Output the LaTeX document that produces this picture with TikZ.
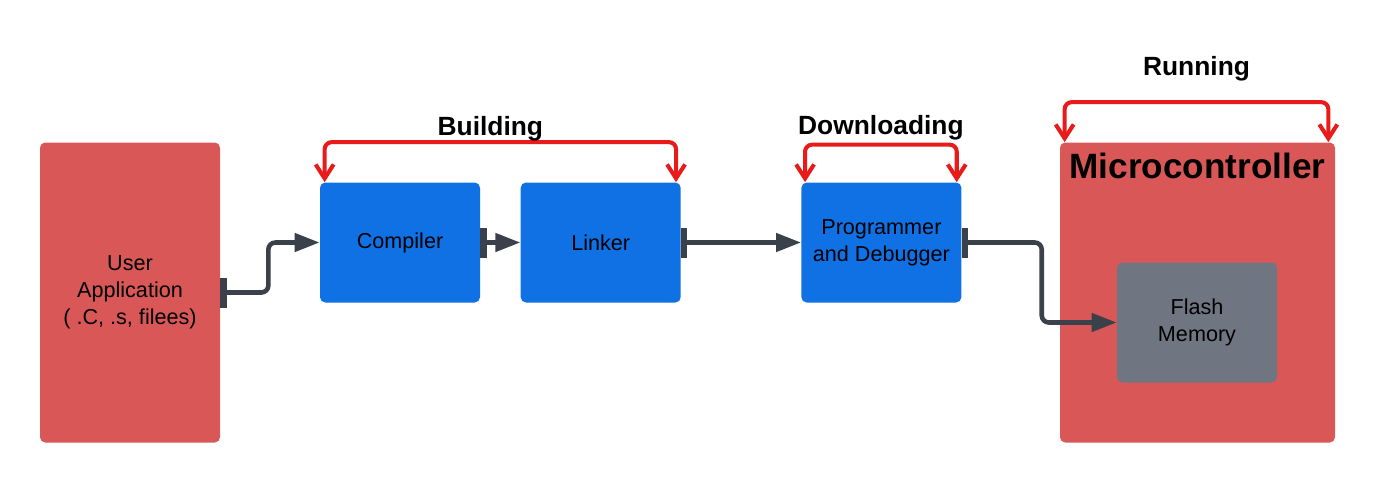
\documentclass[tikz,border=0pt]{standalone}
\usepackage{fontspec}
\setmainfont{Liberation Sans}
\usepackage{tikz}
\usetikzlibrary{positioning, arrows.meta, calc}

\definecolor{boxred}{HTML}{D95757}
\definecolor{boxblue}{HTML}{1071E5}
\definecolor{boxgray}{HTML}{6F7681}
\definecolor{linkgray}{HTML}{3A414A}
\definecolor{loopred}{HTML}{E81A1A}

\tikzset{
    block/.style={rounded corners=3pt, align=center, inner sep=0pt,
        font=\fontsize{12.3}{15.5}\selectfont},
    tool/.style={block, fill=boxblue, minimum width=3.2cm, minimum height=2.4cm},
    flow/.style={linkgray, line width=2.6pt, rounded corners=4pt,
        {Bar[width=0.6cm,line width=3.6pt]}-{Triangle[length=0.5cm,width=0.36cm]}},
    loop/.style={loopred, line width=2.3pt, rounded corners=4pt,
        {Straight Barb[length=0.28cm,width=0.36cm]}-{Straight Barb[length=0.28cm,width=0.36cm]}},
    stage/.style={font=\fontsize{15}{18}\selectfont\bfseries}
}

\begin{document}
\begin{tikzpicture}
    \useasboundingbox (0,0) rectangle (27.5,-9.66);
    % boxes
    \node[block, fill=boxred, minimum width=3.6cm, minimum height=6cm] (app) at (2.6,-5.85)
        {User\\Application\\( .C, .s, filees)};
    \node[tool] (comp) at (8.0,-4.85) {Compiler};
    \node[tool, right=0.8cm of comp] (link) {Linker};
    \node[tool, right=2.4cm of link] (prog) {Programmer\\and Debugger};
    \node[block, fill=boxred, minimum width=5.5cm, minimum height=6cm] (mcu) at (23.95,-5.85) {};
    \node[font=\fontsize{20}{24}\selectfont\bfseries, anchor=north] (mcutext)
        at ([yshift=-0.1cm]mcu.north) {Microcontroller};
    \node[block, fill=boxgray, minimum width=3.2cm, minimum height=2.4cm] (flash) at (23.94,-6.45)
        {Flash\\Memory};
    % connectors
    \draw[flow] (app.east) -- ++(0.96,0) |- (comp.west);
    \draw[flow] (comp.east) -- (link.west);
    \draw[flow] (link.east) -- (prog.west);
    \draw[flow] (prog.east) -- ++(1.6,0) |- (flash.west);
    % stages
    \draw[loop] ([xshift=0.1cm]comp.north west) -- ++(0,0.8) coordinate (b1)
        -- ([xshift=-0.1cm,yshift=0.8cm]link.north east) coordinate (b2) -- ([xshift=-0.1cm]link.north east);
    \node[stage] (building) at ($(b1)!0.5!(b2)+(-0.2,0.27)$) {Building};
    \draw[loop] ([xshift=0.08cm]prog.north west) -- ++(0,0.75) coordinate (d1)
        -- ([xshift=-0.1cm,yshift=0.75cm]prog.north east) coordinate (d2) -- ([xshift=-0.1cm]prog.north east);
    \node[stage] (downloading) at ($(d1)!0.5!(d2)+(0,0.33)$) {Downloading};
    \draw[loop] ([xshift=0.1cm]mcu.north west) -- ++(0,0.8) coordinate (r1)
        -- ([xshift=-0.14cm,yshift=0.8cm]mcu.north east) coordinate (r2) -- ([xshift=-0.14cm]mcu.north east);
    \node[stage] (running) at ($(r1)!0.5!(r2)+(0,0.67)$) {Running};
\end{tikzpicture}
\end{document}
